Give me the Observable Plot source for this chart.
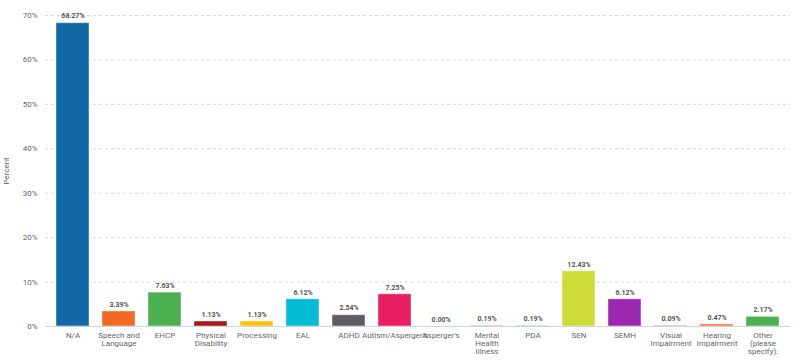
<!DOCTYPE html>
<html>
<head>
<meta charset="utf-8">
<script src="https://cdn.jsdelivr.net/npm/d3@7"></script>
<script src="https://cdn.jsdelivr.net/npm/@observablehq/plot@0.6"></script>
<style>
  body { margin: 0; background: #fff; font-family: Roboto, sans-serif; }
</style>
</head>
<body>
<div id="chart"></div>
<script>
const categories = ["N/A", "Speech and Language", "EHCP", "Physical Disability", "Processing", "EAL", "ADHD", "Autism/Asperger's", "Asperger's", "Mental Health Illness", "PDA", "SEN", "SEMH", "Visual Impairment", "Hearing Impairment", "Other (please specify):"];
const tickLabels = ["N/A", "Speech and\nLanguage", "EHCP", "Physical\nDisability", "Processing", "EAL", "ADHD", "Autism/Asperger's", "Asperger's", "Mental\nHealth\nIllness", "PDA", "SEN", "SEMH", "Visual\nImpairment", "Hearing\nImpairment", "Other\n(please\nspecify):"];
const values = [68.27, 3.39, 7.63, 1.13, 1.13, 6.12, 2.54, 7.25, 0.00, 0.19, 0.19, 12.43, 6.12, 0.09, 0.47, 2.17];
const colors = ["#1269a3", "#f26a21", "#4caf50", "#a8191c", "#ffc107", "#00bcd4", "#5f5a63", "#e91e63", "#9e9e9e", "#f48fb1", "#90caf9", "#cddc39", "#9c27b0", "#3f51b5", "#ff7043", "#4caf50"];
const yTicks = [0, 10, 20, 30, 40, 50, 60, 70];

const data = categories.map((c, i) => ({category: c, value: values[i], color: colors[i]}));
const labelOf = new Map(categories.map((c, i) => [c, tickLabels[i]]));

const chart = Plot.plot({
  width: 800,
  height: 362,
  marginLeft: 45,
  marginRight: 10,
  marginTop: 15,
  marginBottom: 36,
  style: {fontFamily: "Roboto, sans-serif", fontSize: "8px", color: "#666"},
  x: {domain: categories, paddingInner: 0.29, paddingOuter: 0.15, label: null, tickSize: 0, tickPadding: 6, tickFormat: d => labelOf.get(d)},
  y: {domain: [0, 70], ticks: yTicks, tickFormat: d => d + "%", label: "Percent", labelAnchor: "center", labelArrow: "none", tickSize: 0, tickPadding: 8},
  marks: [
    Plot.gridY(yTicks.filter(d => d > 0), {stroke: "#d9d9d9", strokeOpacity: 1, strokeDasharray: "3,3"}),
    Plot.barY(data, {x: "category", y: "value", fill: "color", stroke: "#ffffff", strokeOpacity: 0.45, strokeWidth: 1}),
    Plot.ruleY([0], {stroke: "#c9d6e8"}),
    Plot.text(data, {x: "category", y: "value", text: d => d.value.toFixed(2) + "%", dy: -7, fontSize: 7, fontWeight: "bold", fill: "#555555"})
  ]
});
document.getElementById("chart").appendChild(chart);
</script>
</body>
</html>
